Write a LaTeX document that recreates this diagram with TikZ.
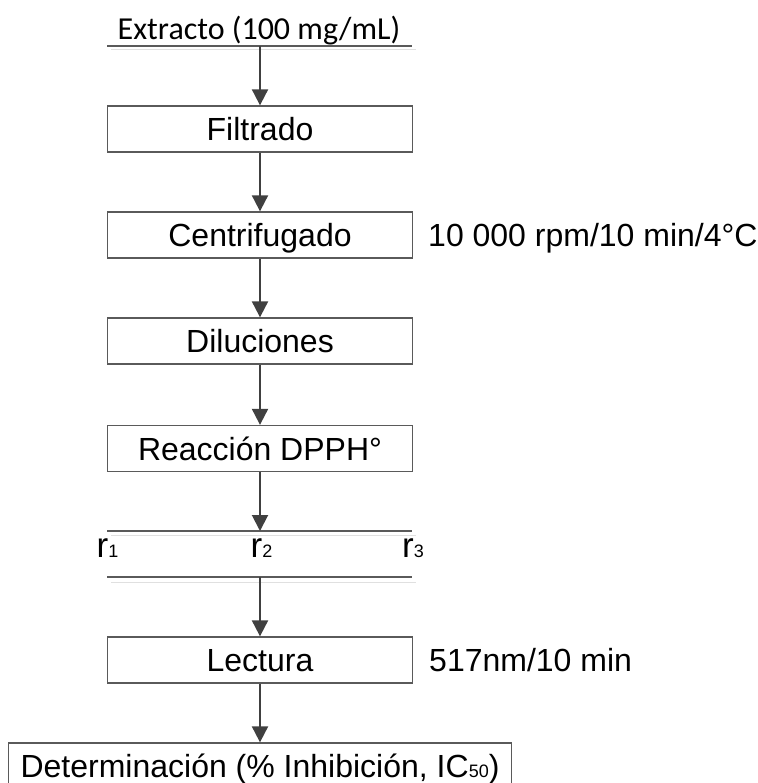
\documentclass[tikz,border=0pt]{standalone}
\usepackage{fontspec}
\setmainfont{Liberation Sans}
\newfontfamily\calfont{Carlito}
\usetikzlibrary{arrows.meta}
\definecolor{arr}{HTML}{404040}
\definecolor{bord}{HTML}{5A5A5A}
\newcommand\fsz{\fontsize{32}{38}\selectfont}
\newcommand\subtxt[1]{{\fontsize{18}{18}\selectfont #1}}
\begin{document}
\begin{tikzpicture}[x=1pt,y=-1pt,
  stepbox/.style={draw=bord,line width=1.3pt,minimum width=305pt,minimum height=46pt,inner sep=0pt,text height=23pt,text depth=0pt,font=\fsz},
  flow/.style={draw=arr,line width=2pt,-{Triangle[width=16pt,length=16pt]}},
  rulel/.style={draw=bord,line width=1.3pt},
  shadel/.style={draw=black!12,line width=1pt},
  side/.style={anchor=west,inner sep=0pt,text height=23pt,text depth=0pt,font=\fsz},
  rlab/.style={anchor=base,inner sep=0pt,font=\fontsize{35}{40}\selectfont}
]
\useasboundingbox (0,0) rectangle (757,783);

\node[anchor=base,inner sep=0pt,font=\calfont\fsz] (ext) at (259,40) {Extracto (100 mg/mL)};
\coordinate (extL) at (107,46);
\coordinate (extR) at (412,46);
\coordinate (extM) at (260,46);
\draw[rulel] (extL) -- (extR);
\draw[shadel] (111,50) -- (416,50);

\node[stepbox] (filt) at (260,129) {Filtrado};
\node[stepbox] (cent) at (260,235) {Centrifugado};
\node[side] (centnote) at (428,235) {10 000 rpm/10 min/4°C};
\node[stepbox] (dil) at (260,341) {Diluciones};
\node[stepbox] (reac) at (260,448.5) {Reacción DPPH°};

\coordinate (rtL) at (107,531);
\coordinate (rtR) at (412,531);
\coordinate (rtM) at (260,531);
\draw[rulel] (rtL) -- (rtR);
\draw[shadel] (111,535) -- (416,535);
\node[rlab] (r1) at (107.5,557) {r\subtxt{1}};
\node[rlab] (r2) at (261.5,557) {r\subtxt{2}};
\node[rlab] (r3) at (413,557) {r\subtxt{3}};
\coordinate (rbL) at (107,577);
\coordinate (rbR) at (412,577);
\coordinate (rbM) at (260,577);
\draw[rulel] (rbL) -- (rbR);
\draw[shadel] (111,582) -- (416,582);

\node[stepbox] (lect) at (260,660) {Lectura};
\node[side] (lectnote) at (429,660) {517nm/10 min};
\node[stepbox,minimum width=503pt] (det) at (260,766) {Determinación (\% Inhibición, IC\subtxt{50})};

\draw[flow] (extM) -- (filt);
\draw[flow] (filt) -- (cent);
\draw[flow] (cent) -- (dil);
\draw[flow] (dil) -- (reac);
\draw[flow] (reac) -- (rtM);
\draw[flow] (rbM) -- (lect);
\draw[flow] (lect) -- (det);
\end{tikzpicture}
\end{document}
